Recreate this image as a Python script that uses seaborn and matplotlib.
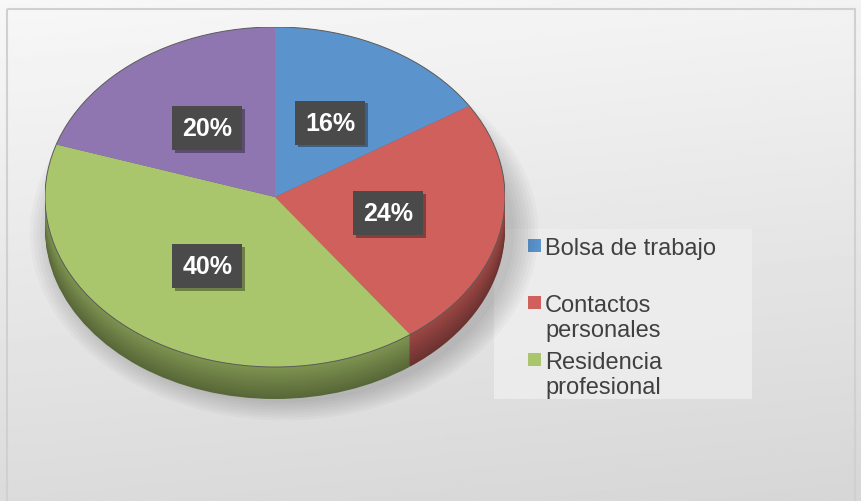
import matplotlib
matplotlib.use("Agg")
import numpy as np
import matplotlib.pyplot as plt
import matplotlib.patheffects as pe
from matplotlib.patches import Rectangle, Ellipse
import seaborn as sns

# Data
categories = ["Bolsa de trabajo", "Contactos\npersonales", "Residencia\nprofesional", "Otros"]
shares = [16, 24, 40, 20]
colors = ["#5b94cc", "#d0605c", "#a9c66c", "#9076b0"]
legend_shown = 3  # the reference legend only shows the first three entries

sns.set_theme(style="white")
plt.rcParams["font.family"] = ["Liberation Sans", "DejaVu Sans"]

W, H = 861, 502
fig = plt.figure(figsize=(W / 100, H / 100), dpi=100)

# background with soft gradient + frame
ax_bg = fig.add_axes([0, 0, 1, 1])
yy, xx = np.mgrid[0:1:200j, 0:1:300j]
grad = 0.97 - 0.13 * (0.85 * yy + 0.15 * xx)
ax_bg.imshow(grad, cmap="gray", vmin=0, vmax=1, extent=[0, W, H, 0], aspect="auto")
ax_bg.add_patch(Rectangle((7, 10), 848, 500, fill=False, edgecolor="#d0d0d0", lw=1.5))
ax_bg.set_xlim(0, W)
ax_bg.set_ylim(H, 0)
ax_bg.axis("off")

# pie axes, squashed into an ellipse
t = 32 / 170
left, right, top, bottom = 45, 505, 28, 400
ax = fig.add_axes([left / W, (H - bottom) / H, (right - left) / W, (bottom - top) / H])

# soft shadow
for k in range(8):
    ax.add_patch(Ellipse((0.04, -t - 0.02), 2.0 + 0.03 * k, 2.0 + 0.03 * k,
                         color="black", alpha=0.025, lw=0, clip_on=False, zorder=0))

# side of the 3D pie: stacked pies, darker toward the bottom
n_layers = 16
for i, off in enumerate(np.linspace(-t, -0.01, n_layers)):
    f = 0.52 + 0.22 * i / (n_layers - 1)
    side = [tuple(np.array(matplotlib.colors.to_rgb(c)) * f) for c in colors]
    wedges, _ = ax.pie(shares, colors=side, startangle=90, counterclock=False,
                       center=(0, off), radius=1, wedgeprops=dict(linewidth=0))
    for w in wedges:
        w.set_zorder(1)

# top face
wedges, texts, autotexts = ax.pie(
    shares, colors=colors, startangle=90, counterclock=False, radius=1,
    autopct="%1.0f%%", pctdistance=0.5, wedgeprops=dict(linewidth=0),
    textprops=dict(color="white", fontsize=18, fontweight="bold"))
for w in wedges:
    w.set_zorder(2)
ax.add_patch(Ellipse((0, 0), 2, 2, fill=False, edgecolor="#5a5a5a", lw=0.7, zorder=3))

for at in autotexts:
    at.set_zorder(5)
    at.set_bbox(dict(boxstyle="square,pad=0.4", facecolor="#4a4a4a", edgecolor="none"))
    at.get_bbox_patch().set_path_effects([
        pe.SimplePatchShadow(offset=(2, -2), shadow_rgbFace="black", alpha=0.35),
        pe.Normal()])

ax.set_xlim(-1, 1)
ax.set_ylim(-1 - t, 1)
ax.set_aspect("auto")
ax.axis("off")

# legend
ax_bg.add_patch(Rectangle((494, 230), 258, 170, facecolor="#eeeeee", alpha=0.85,
                          edgecolor="none", zorder=3))
first_line_y = [246, 303, 360]
for lab, col, yc in zip(categories[:legend_shown], colors[:legend_shown], first_line_y):
    ax_bg.add_patch(Rectangle((528, yc - 6.5), 13, 13, facecolor=col, edgecolor="none", zorder=4))
    ax_bg.text(545, yc - 8, lab, fontsize=17, color="#404040", va="top", ha="left",
               linespacing=1.15, zorder=4)

fig.savefig("out.png", dpi=100)
